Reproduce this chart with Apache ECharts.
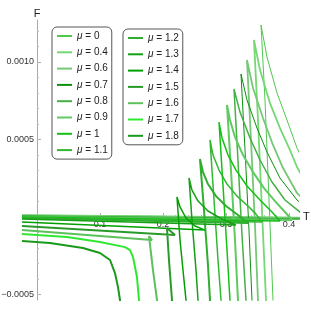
<!DOCTYPE html>
<html><head><meta charset="utf-8">
<script src="https://cdn.jsdelivr.net/npm/echarts@6/dist/echarts.min.js"></script>
<style>html,body{margin:0;padding:0;background:#fff}#c{width:311px;height:311px}</style>
</head><body><div id="c"></div>
<script>
// mu values (legend labels)
const muLabels = ['0','0.4','0.6','0.7','0.8','0.9','1','1.1','1.2','1.3','1.4','1.5','1.6','1.7','1.8'];
// Curves: [T, F] (small branch -> intermediate -> large branch)
const mu0  = [[-0.0238,0.013e-3],[0.481,-0.006e-3],[0.449,0.142e-3],[0.4127,0.445e-3],[0.3968,0.626e-3],[0.381,0.800e-3],[0.3651,1.032e-3],[0.3556,1.239e-3],[0.3619,0.755e-3],[0.3683,0.110e-3],[0.3746,-0.535e-3],[0.3762,-0.665e-3]];
const mu04 = [[-0.0238,0.013e-3],[0.4889,-0.006e-3],[0.4651,0.039e-3],[0.4333,0.174e-3],[0.4127,0.323e-3],[0.4016,0.432e-3],[0.3857,0.574e-3],[0.3698,0.735e-3],[0.354,0.948e-3],[0.3444,1.142e-3],[0.3508,0.626e-3],[0.3571,0.045e-3],[0.3635,-0.535e-3],[0.3651,-0.665e-3]];
const mu06 = [[-0.0238,0.006e-3],[0.473,-0.006e-3],[0.4413,0.045e-3],[0.4127,0.155e-3],[0.3905,0.316e-3],[0.3746,0.465e-3],[0.3587,0.639e-3],[0.3429,0.832e-3],[0.3333,1.013e-3],[0.3397,0.497e-3],[0.346,-0.052e-3],[0.3508,-0.535e-3],[0.3524,-0.665e-3]];
const mu07 = [[-0.0238,0.006e-3],[0.4571,-0.013e-3],[0.4333,0.045e-3],[0.4127,0.110e-3],[0.3857,0.252e-3],[0.3651,0.419e-3],[0.3492,0.574e-3],[0.3333,0.755e-3],[0.3238,0.923e-3],[0.3302,0.432e-3],[0.3365,-0.084e-3],[0.3413,-0.535e-3],[0.3429,-0.665e-3]];
const mu08 = [[-0.0238,0.006e-3],[0.4333,-0.013e-3],[0.4175,0.032e-3],[0.3937,0.110e-3],[0.373,0.226e-3],[0.354,0.368e-3],[0.3381,0.510e-3],[0.3222,0.677e-3],[0.3127,0.826e-3],[0.319,0.368e-3],[0.3254,-0.116e-3],[0.3317,-0.535e-3],[0.3333,-0.665e-3]];
const mu09 = [[-0.0238,0],[0.4048,-0.019e-3],[0.3921,0.039e-3],[0.3778,0.103e-3],[0.3603,0.187e-3],[0.3429,0.290e-3],[0.327,0.400e-3],[0.3143,0.516e-3],[0.3063,0.626e-3],[0.3016,0.723e-3],[0.3079,0.303e-3],[0.3143,-0.148e-3],[0.319,-0.535e-3],[0.3206,-0.665e-3]];
const mu10 = [[-0.0238,0],[0.3857,-0.026e-3],[0.373,0.032e-3],[0.354,0.110e-3],[0.3333,0.200e-3],[0.3159,0.303e-3],[0.3032,0.400e-3],[0.2937,0.510e-3],[0.2889,0.613e-3],[0.2952,0.206e-3],[0.3016,-0.213e-3],[0.3063,-0.535e-3],[0.3079,-0.665e-3]];
const mu11 = [[-0.0238,-0.006e-3],[0.3571,-0.032e-3],[0.3476,0.019e-3],[0.3365,0.065e-3],[0.3175,0.135e-3],[0.3016,0.213e-3],[0.2889,0.303e-3],[0.2794,0.400e-3],[0.2746,0.497e-3],[0.281,0.110e-3],[0.2873,-0.277e-3],[0.2921,-0.535e-3],[0.2937,-0.665e-3]];
const mu12 = [[-0.0238,-0.006e-3],[0.3349,-0.039e-3],[0.319,0.013e-3],[0.3,0.071e-3],[0.2841,0.135e-3],[0.2714,0.213e-3],[0.2635,0.290e-3],[0.2587,0.374e-3],[0.2651,0.045e-3],[0.2714,-0.310e-3],[0.2746,-0.535e-3],[0.2762,-0.665e-3]];
const mu13 = [[-0.0238,-0.013e-3],[0.3159,-0.052e-3],[0.2937,-0.013e-3],[0.2714,0.039e-3],[0.2556,0.103e-3],[0.246,0.174e-3],[0.2413,0.252e-3],[0.246,-0.019e-3],[0.2524,-0.342e-3],[0.2556,-0.535e-3],[0.2571,-0.665e-3]];
const mu14 = [[-0.0238,-0.032e-3],[0.2667,-0.084e-3],[0.2508,-0.058e-3],[0.2365,-0.006e-3],[0.227,0.065e-3],[0.2222,0.129e-3],[0.227,-0.148e-3],[0.2333,-0.406e-3],[0.2365,-0.535e-3],[0.2381,-0.665e-3]];
const mu15 = [[-0.0238,-0.058e-3],[0.219,-0.116e-3],[0.2063,-0.071e-3],[0.2095,-0.277e-3],[0.2143,-0.535e-3],[0.2159,-0.665e-3]];
const mu16 = [[-0.0238,-0.084e-3],[0.1825,-0.148e-3],[0.1778,-0.123e-3],[0.1841,-0.342e-3],[0.1905,-0.535e-3],[0.1921,-0.665e-3]];
const mu17 = [[-0.0238,-0.110e-3],[0.0476,-0.129e-3],[0.1,-0.161e-3],[0.1397,-0.194e-3],[0.1476,-0.213e-3],[0.1524,-0.258e-3],[0.1587,-0.387e-3],[0.1619,-0.535e-3],[0.1635,-0.665e-3]];
const mu18 = [[-0.0238,-0.155e-3],[0.0206,-0.168e-3],[0.073,-0.200e-3],[0.1,-0.232e-3],[0.1159,-0.277e-3],[0.1238,-0.361e-3],[0.1286,-0.452e-3],[0.1317,-0.535e-3],[0.1333,-0.665e-3]];
const curves = [mu0,mu04,mu06,mu07,mu08,mu09,mu10,mu11,mu12,mu13,mu14,mu15,mu16,mu17,mu18];
// tick values
const xMajor = [0.1,0.2,0.3,0.4];
const xMinor = [0,0.02,0.04,0.06,0.08,0.1,0.12,0.14,0.16,0.18,0.2,0.22,0.24,0.26,0.28,0.3,0.32,0.34,0.36,0.38,0.4];
const yMajor = [-0.0005,0.0005,0.001];
const yMinor = [-0.0005,-0.0004,-0.0003,-0.0002,-0.0001,0.0001,0.0002,0.0003,0.0004,0.0005,0.0006,0.0007,0.0008,0.0009,0.001,0.0011,0.0012];

const colors = ['#50c850','#74d874','#76c876','#0d8f0d','#45b045','#60ca60','#14c014','#30b830','#30ae30','#14a014','#00a000','#2a9a2a','#5cc05c','#30e830','#1a9a1a'];
const widths = [1,1.8,1.8,1,1.5,2,1.5,1.5,2,1.5,1.5,2,2,2,2];

const X0=-0.0238, X1=0.4143, Y0=-0.000535, Y1=0.001271;
const GL=22, GR=13, GT=20, GB=11, W=311, H=311;
const gw = W-GL-GR, gh = H-GT-GB;
// axis offsets so the axes cross at the origin (T=0, F=0)
const xOff = -(gh*(0-Y0)/(Y1-Y0));
const yOff = -(gw*(0-X0)/(X1-X0));
const font = 'Liberation Sans, Arial, sans-serif';
const names = muLabels.map(m => 'μ = ' + m);
const series = curves.map((d,i) => ({
  type:'line', name:names[i], data:d, symbol:'none', clip:true, animation:false,
  xAxisIndex:0, yAxisIndex:0,
  lineStyle:{color:colors[i], width:widths[i]}, itemStyle:{color:colors[i]}
}));
const legendBase = {
  orient:'vertical', itemWidth:15, itemHeight:12, itemGap:4.3,
  itemStyle:{opacity:0, borderWidth:0},
  borderColor:'#555', borderWidth:1, borderRadius:5, backgroundColor:'#fff',
  formatter: n => '{i|μ}' + n.slice(1),
  textStyle:{fontFamily:font, fontSize:10, color:'#222', lineHeight:12, height:12,
    rich:{i:{fontStyle:'italic', fontFamily:font, fontSize:10, color:'#222', lineHeight:12}}}
};
const chart = echarts.init(document.getElementById('c'), null, {renderer:'canvas'});
chart.setOption({
  animation:false,
  grid:{left:GL, right:GR, top:GT, bottom:GB, containLabel:false, outerBoundsMode:'none'},
  xAxis:[
    {type:'value', min:X0, max:X1, position:'bottom', offset:xOff, name:'T', nameLocation:'end', nameGap:5,
     nameTextStyle:{fontFamily:font, fontSize:11, color:'#222'},
     axisLine:{onZero:false, lineStyle:{color:'#aaa', width:1}},
     axisTick:{show:true, inside:true, length:4, customValues:xMajor, lineStyle:{color:'#aaa'}},
     axisLabel:{customValues:xMajor, fontFamily:font, fontSize:9, color:'#333', margin:3, formatter:v=>String(v)},
     splitLine:{show:false}},
    {type:'value', min:X0, max:X1, position:'bottom', offset:xOff,
     axisLine:{onZero:false, show:false},
     axisTick:{show:true, inside:true, length:2, customValues:xMinor, lineStyle:{color:'#bbb'}},
     axisLabel:{show:false}, splitLine:{show:false}}
  ],
  yAxis:[
    {type:'value', min:Y0, max:Y1, position:'left', offset:yOff, name:'F', nameLocation:'end', nameGap:1,
     nameTextStyle:{fontFamily:font, fontSize:11, color:'#222', align:'center'},
     axisLine:{onZero:false, lineStyle:{color:'#aaa', width:1}},
     axisTick:{show:true, inside:true, length:4, customValues:yMajor, lineStyle:{color:'#aaa'}},
     axisLabel:{customValues:yMajor, fontFamily:font, fontSize:9, color:'#333', margin:3,
       formatter:v=> v>0.0007?'0.0010':(v>0?'0.0005':'\u22120.0005')},
     splitLine:{show:false}},
    {type:'value', min:Y0, max:Y1, position:'left', offset:yOff,
     axisLine:{onZero:false, show:false},
     axisTick:{show:true, inside:true, length:2, customValues:yMinor, lineStyle:{color:'#bbb'}},
     axisLabel:{show:false}, splitLine:{show:false}}
  ],
  legend:[
    Object.assign({}, legendBase, {left:52, top:27, padding:[3,4,3,4], data:names.slice(0,8)}),
    Object.assign({}, legendBase, {left:123, top:29, padding:[3,4,3,4], data:names.slice(8)})
  ],
  series: series
});
</script></body></html>
